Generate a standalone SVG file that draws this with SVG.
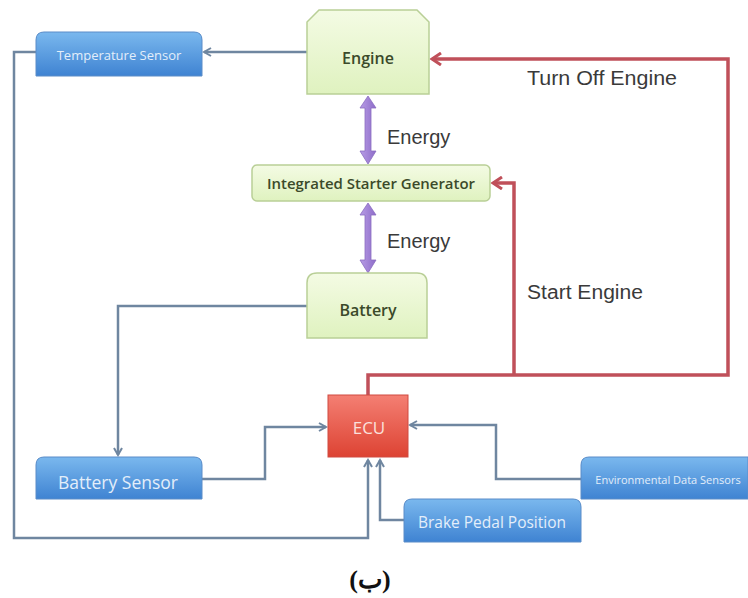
<svg xmlns="http://www.w3.org/2000/svg" width="748" height="598" viewBox="0 0 748 598">
<defs>
<linearGradient id="gBlue" x1="0" y1="0" x2="0" y2="1"><stop offset="0" stop-color="#7ab8ee"/><stop offset="1" stop-color="#3f83d2"/></linearGradient>
<linearGradient id="gGreen" x1="0" y1="0" x2="0" y2="1"><stop offset="0" stop-color="#f4fbe4"/><stop offset="1" stop-color="#dff2bf"/></linearGradient>
<linearGradient id="gRed" x1="0" y1="0" x2="0" y2="1"><stop offset="0" stop-color="#f47f73"/><stop offset="1" stop-color="#dd4333"/></linearGradient>
<marker id="ag" markerWidth="10" markerHeight="10" refX="8" refY="5" orient="auto" markerUnits="userSpaceOnUse"><path d="M1,1 L8,5 L1,9" fill="none" stroke="#6f86a0" stroke-width="2"/></marker>
<marker id="ar" markerWidth="14" markerHeight="14" refX="11" refY="7" orient="auto" markerUnits="userSpaceOnUse"><path d="M2,1 L11,7 L2,13" fill="none" stroke="#c0505a" stroke-width="3"/></marker>
<linearGradient id="gPur" x1="0" y1="0" x2="1" y2="0"><stop offset="0" stop-color="#b89ce6"/><stop offset="1" stop-color="#8d6cc8"/></linearGradient>
</defs>
<style>
.blue{fill:url(#gBlue);stroke:#5a8cc8;stroke-width:1}
.green{fill:url(#gGreen);stroke:#b9cf97;stroke-width:1.5}
.red{fill:url(#gRed);stroke:#d04a40;stroke-width:1}
.wt{font-family:"Open Sans","Liberation Sans",sans-serif;fill:#e3eefa;text-anchor:middle;dominant-baseline:central}
.gt{font-family:"Open Sans","Liberation Sans",sans-serif;font-weight:600;fill:#3b4a2a;text-anchor:middle;dominant-baseline:central}
.lbl{font-family:"Liberation Sans",Arial,sans-serif;fill:#3a3a3a;font-size:20px}
.cg{fill:none;stroke:#6f86a0;stroke-width:2.5}
.cr{fill:none;stroke:#c0505a;stroke-width:3.5}
.pur{fill:url(#gPur);stroke:#8a6cc0;stroke-width:0.8}
</style>
<rect width="748" height="598" fill="#ffffff"/>
<g id="connectors">
<path class="cg" d="M307,52 L204,52" marker-end="url(#ag)"/>
<path class="cg" d="M36,52 L14,52 L14,538 L368,538 L368,460" marker-end="url(#ag)"/>
<path class="cg" d="M307,306 L118,306 L118,455" marker-end="url(#ag)"/>
<path class="cg" d="M202,479 L265,479 L265,427 L326,427" marker-end="url(#ag)"/>
<path class="cg" d="M581,479 L496,479 L496,425 L410,425" marker-end="url(#ag)"/>
<path class="cg" d="M404,520 L380,520 L380,460" marker-end="url(#ag)"/>
<path class="cr" d="M368,395 L368,375 L728,375 L728,59 L432,59" marker-end="url(#ar)"/>
<path class="cr" d="M514,375 L514,183 L493,183" marker-end="url(#ar)"/>
<path class="pur" d="M368,96 L376,108 L371,108 L371,151 L376,151 L368,164 L360,151 L365,151 L365,108 L360,108 Z"/>
<path class="pur" d="M368,203 L376,215 L371,215 L371,260 L376,260 L368,273 L360,260 L365,260 L365,215 L360,215 Z"/>
</g>
<g id="temperature-sensor">
<path class="blue" d="M36,76 L36,40 Q36,32 44,32 L194,32 Q202,32 202,40 L202,76 Z"/>
<text class="wt" x="119" y="55" font-size="13">Temperature Sensor</text>
</g>
<g id="engine">
<path class="green" d="M307,94 L307,22 L319,10 L417,10 L429,22 L429,94 Z"/>
<text class="gt" x="368" y="58" font-size="16">Engine</text>
</g>
<g id="isg">
<rect class="green" x="252" y="165" width="238" height="36" rx="5"/>
<text class="gt" x="371" y="184" font-size="13.5" textLength="208" lengthAdjust="spacingAndGlyphs">Integrated Starter Generator</text>
</g>
<g id="battery">
<path class="green" d="M307,338 L307,283 Q307,273 317,273 L417,273 Q427,273 427,283 L427,338 Z"/>
<text class="gt" x="368" y="310" font-size="16">Battery</text>
</g>
<g id="ecu">
<rect class="red" x="328" y="395" width="80" height="62"/>
<text class="wt" x="369" y="427" font-size="17" style="fill:#fbe0dc">ECU</text>
</g>
<g id="battery-sensor">
<path class="blue" d="M36,499 L36,465 Q36,457 44,457 L194,457 Q202,457 202,465 L202,499 Z"/>
<text class="wt" x="118" y="482" font-size="17.5">Battery Sensor</text>
</g>
<g id="environmental-data-sensors">
<path class="blue" d="M581,499 L581,465 Q581,457 589,457 L748,457 L748,499 Z"/>
<text class="wt" x="668" y="479" font-size="11">Environmental Data Sensors</text>
</g>
<g id="brake-pedal-position">
<path class="blue" d="M404,542 L404,507 Q404,499 412,499 L573,499 Q581,499 581,507 L581,542 Z"/>
<text class="wt" x="492" y="522" font-size="15.5">Brake Pedal Position</text>
</g>
<g id="labels">
<text class="lbl" x="387" y="144">Energy</text>
<text class="lbl" x="387" y="248">Energy</text>
<text class="lbl" x="527" y="85" textLength="150" lengthAdjust="spacingAndGlyphs">Turn Off Engine</text>
<text class="lbl" x="527" y="299" textLength="116" lengthAdjust="spacingAndGlyphs">Start Engine</text>
<text x="370" y="588" font-family="'Liberation Serif','DejaVu Serif',serif" font-size="26" font-weight="bold" text-anchor="middle" fill="#111">(ب)</text>
</g>
</svg>
